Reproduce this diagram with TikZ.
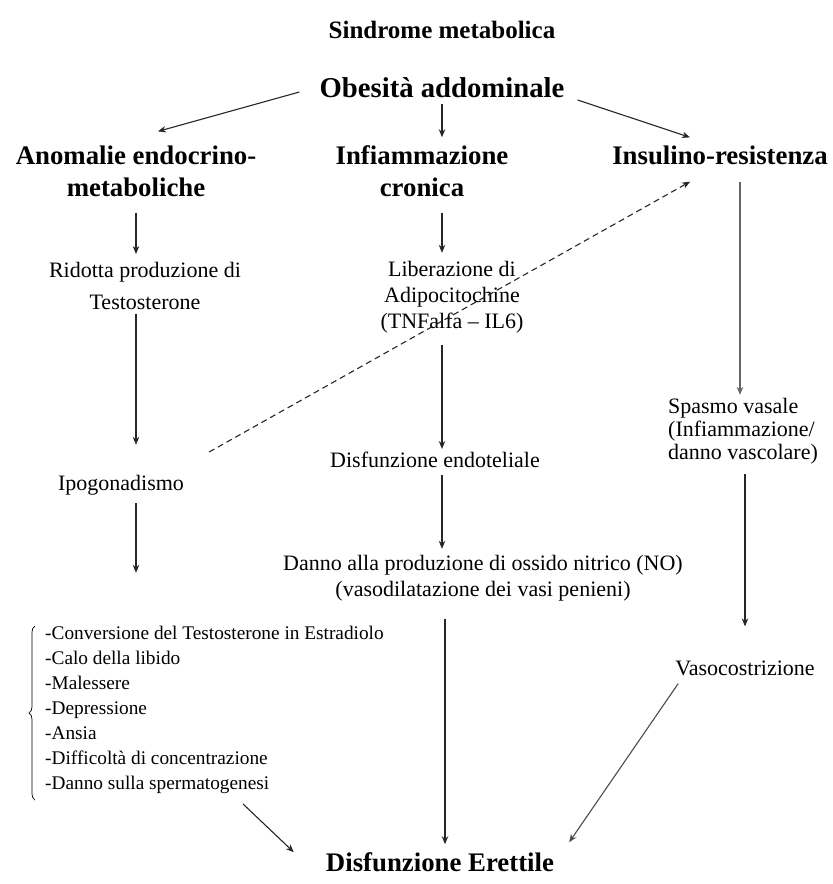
\documentclass[tikz,border=0pt]{standalone}
\usepackage{fontspec}
\setmainfont{Liberation Serif}
\usetikzlibrary{arrows.meta,calc,decorations.pathreplacing}
\begin{document}
\begin{tikzpicture}[x=1pt,y=-1pt,
  arr/.style={draw=black!85, line width=1.1pt, -{Stealth[length=8pt,width=6.5pt]}},
  dasharr/.style={arr, dash pattern=on 6pt off 4pt},
  title/.style={inner sep=0pt, align=center, font=\fontsize{25}{30}\selectfont\bfseries},
  bighead/.style={inner sep=0pt, align=center, font=\fontsize{28.7}{34}\selectfont\bfseries},
  head/.style={inner sep=0pt, align=center, font=\fontsize{26.8}{32}\selectfont\bfseries},
  txt/.style={inner sep=0pt, align=center, font=\fontsize{22}{30}\selectfont},
  lst/.style={inner sep=0pt, align=left, font=\fontsize{19.3}{25}\selectfont}]
\useasboundingbox (0,0) rectangle (833,884);

% level 0 and 1
\node[title] (sm) at (442,30) {Sindrome metabolica};
\node[bighead] (obes) at (442,88) {Obesità addominale};
\node[head] (anom) at (136,171) {Anomalie endocrino-\\metaboliche};
\node[head] (infl) at (422,171) {Infiammazione\\cronica};
\node[head] (insu) at (720,155) {Insulino-resistenza};

% left column
\node[txt, font=\fontsize{22}{32}\selectfont] (rid) at (145,286) {Ridotta produzione di\\Testosterone};
\node[txt] (ipo) at (121,485) {Ipogonadismo};
\node[lst, anchor=north west] (list) at (45,626) {-Conversione del Testosterone in Estradiolo\\-Calo della libido\\-Malessere\\-Depressione\\-Ansia\\-Difficoltà di concentrazione\\-Danno sulla spermatogenesi};

% middle column
\node[txt, font=\fontsize{22}{26}\selectfont] (lib) at (452,297) {Liberazione di\\Adipocitochine\\(TNFalfa – IL6)};
\node[txt] (disf) at (435,460) {Disfunzione endoteliale};
\node[txt, font=\fontsize{22}{26}\selectfont] (danno) at (483,578) {Danno alla produzione di ossido nitrico (NO)\\(vasodilatazione dei vasi penieni)};

% right column
\node[txt, align=left, font=\fontsize{22}{23}\selectfont] (spa) at (743,431) {Spasmo vasale\\(Infiammazione/\\danno vascolare)};
\node[txt] (vaso) at (745,668) {Vasocostrizione};

% outcome
\node[head] (de) at (440,862) {Disfunzione Erettile};

% connectors
\draw[arr] ($(obes.west)+(-20,4)$) -- ($(anom.north)+(22,-14)$);
\draw[arr] ($(obes.south)+(0,6)$) -- ($(obes.south |- infl.north)+(0,-8)$);
\draw[arr] ($(obes.east)+(13,12)$) -- ($(insu.north)+(-30,-8)$);

\draw[arr] ($(anom.south)+(0,16)$) -- ($(anom.south |- rid.north)+(0,-8)$);
\draw[arr] ($(anom.south |- rid.south)+(0,4)$) -- ($(anom.south |- ipo.north)+(0,-30)$);
\draw[arr] ($(anom.south |- ipo.south)+(0,8)$) -- ($(anom.south |- danno.north)+(0,18)$);

\draw[arr] ($(obes.south |- infl.south)+(0,16)$) -- ($(obes.south |- lib.north)+(0,-8)$);
\draw[arr] ($(obes.south |- lib.south)+(0,12)$) -- ($(obes.south |- disf.north)+(0,-3)$);
\draw[arr] ($(obes.south |- disf.south)+(0,7)$) -- ($(obes.south |- danno.north)+(0,-6)$);
\draw[arr] ($(danno.south)+(-38,18)$) -- ($(danno.south |- de.north)+(-38,-8)$);

\draw[arr, draw=black!60] ($(insu.south)+(20,17)$) -- ($(insu.south |- spa.north)+(20,-3)$);
\draw[arr] ($(vaso.north |- spa.south)+(0,10)$) -- ($(vaso.north)+(0,-34)$);
\draw[arr, draw=black!70] ($(vaso.south west)+(3,8)$) -- ($(de.north east)+(15,-10)$);
\draw[arr] ($(list.south west)+(198,10)$) -- ($(de.north west)+(-32,0)$);

\draw[dasharr] ($(ipo.east)+(25,-33)$) -- ($(insu.south west)+(78,17)$);

% bracket beside the list
\draw[line width=0.7pt, decorate, decoration={brace, amplitude=6pt}] (35,800) -- (35,626);
\end{tikzpicture}
\end{document}
